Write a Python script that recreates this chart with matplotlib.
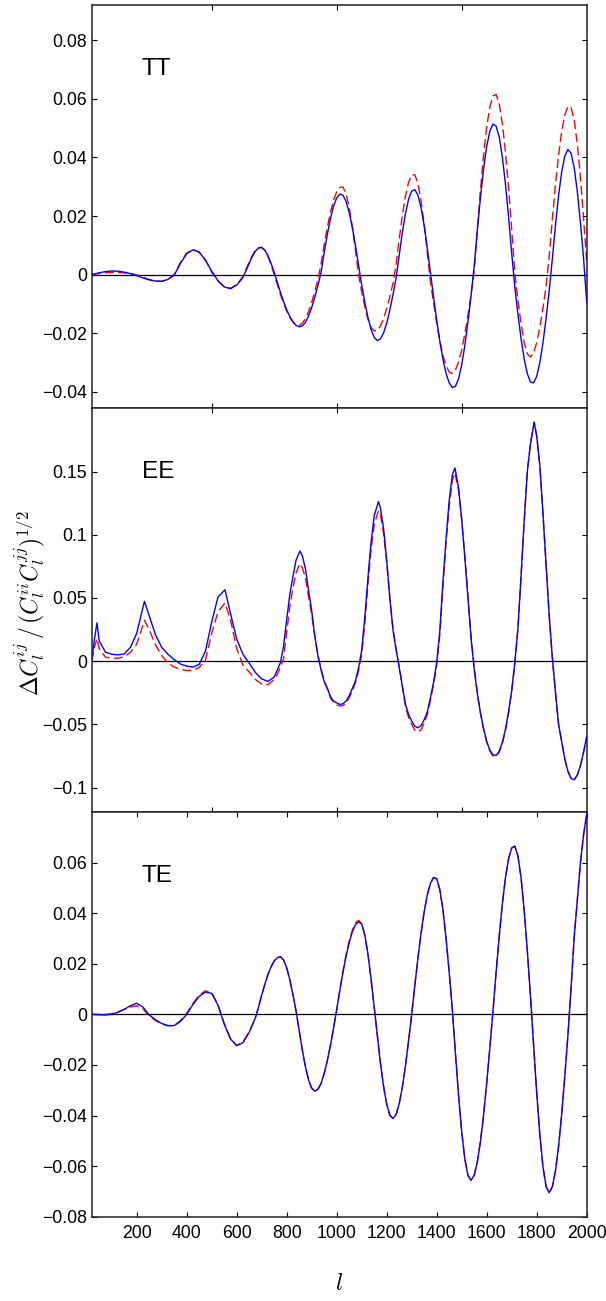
import numpy as np
import matplotlib
matplotlib.use("Agg")
import matplotlib.pyplot as plt

plt.rcParams["font.family"] = ["Liberation Sans", "DejaVu Sans"]
plt.rcParams["mathtext.fontset"] = "cm"

# multipole grid for TT and TE: coarse at low l, finer where the wiggles are large
ell = [20] + list(range(50, 626, 25)) + list(np.arange(650, 2000.01, 12.5))

# TT residuals (x 1e-3)
tt_solid = [0, 0.64, 1.05, 1.24, 1.18, 0.86, 0.35, -0.34, -1.13, -1.77, -2.18,
            -2.29, -1.63, -0.19, 3.83, 7.15, 8.49, 7.65, 5.0, 1.17, -2.05,
            -4.18, -4.78, -3.56, -0.97,
            3.83, 6.23, 8.05, 9.09, 9.24, 8.35, 6.48, 3.86,
            0.76, -2.65, -6.03, -9.18, -11.98, -14.3, -16.1, -17.3,
            -17.78, -17.5, -16.3, -14.1, -11.2, -7.66, -3.67, 0.8,
            7.5, 13.7, 19.1, 23.4, 26.2, 27.5, 27.1, 25.0,
            21.2, 16.1, 9.9, 3.1, -3.5, -9.4, -14.6, -18.7,
            -21.4, -22.5, -21.9, -19.9, -16.6, -12.1, -6.9, -1.2,
            6.6, 14.3, 20.8, 25.7, 28.5, 29.0, 27.1, 22.8,
            16.7, 9.0, 0.7, -7.6, -15.5, -22.7, -28.9, -33.7,
            -36.9, -38.5, -38.1, -35.5, -30.8, -24.2, -16.2, -7.1,
            3.0, 15.1, 26.3, 36.1, 43.8, 48.9, 51.4, 50.7,
            47.0, 40.2, 30.9, 19.7, 7.3, -4.2, -13.5, -21.9,
            -28.8, -33.8, -36.6, -36.9, -34.7, -30.0, -23.3, -14.9,
            -5.5, 5.3, 16.8, 27.0, 35.1, 40.5, 42.7, 41.4,
            36.5, 28.3, 17.7, 5.6, -9.5]
tt_dashed = [0, 0.40, 0.66, 0.79, 0.77, 0.61, 0.34, 0, -0.91, -1.66, -2.16,
             -2.29, -1.55, 0, 4.2, 7.33, 8.6, 7.7, 4.9, 0.86, -2.15, -4.07,
             -4.67, -3.37, -0.62,
             4.3, 6.56, 8.25, 9.21, 9.33, 8.34, 6.25, 3.34,
             0, -3.4, -6.75, -9.8, -12.4, -14.6, -16.1, -17.1,
             -17.3, -16.6, -15.0, -12.6, -9.4, -5.7, -1.7, 3.9,
             10.3, 16.2, 21.3, 25.4, 28.3, 29.8, 29.9, 27.6,
             23.0, 16.3, 8.3, 0, -5.9, -11.0, -15.2, -18.0,
             -19.2, -19.0, -17.5, -15.0, -11.6, -7.6, -3.0, 3.3,
             12.1, 20.2, 26.8, 31.5, 34.0, 34.1, 31.1, 25.2,
             17.0, 7.2, -2.4, -9.7, -16.5, -22.5, -27.5, -31.1,
             -33.2, -33.7, -32.5, -29.8, -25.7, -20.2, -13.9, -6.8,
             1.2, 15.4, 28.8, 40.7, 50.3, 57.2, 61.0, 61.5,
             58.3, 51.6, 41.9, 29.6, 15.5, 0.6, -8.7, -16.8,
             -23.2, -27.0, -28.1, -26.7, -23.2, -18.0, -11.5, -4.0,
             6.2, 18.9, 30.6, 40.8, 48.9, 54.5, 57.4, 57.1,
             52.8, 44.6, 33.1, 19.2, 4.4]

# TE residuals (x 1e-3)
te_solid = [0, -0.2, -0.25, 0, 0.8, 2.0, 3.4, 4.4, 2.9, -0.23, -2.1, -3.6,
            -4.45, -4.44, -2.8, 0, 3.9, 7.1, 8.8, 8.3, 3.7, -3.8, -9.7, -12.4,
            -11.2,
            -7.1, -4.3, -1.25, 2.9, 7.6, 11.9, 15.7, 18.8,
            21.1, 22.4, 22.8, 21.5, 18.4, 13.7, 7.8, 1.3,
            -6.5, -14.1, -20.8, -25.9, -29.2, -30.4, -29.6, -27.3,
            -23.4, -18.3, -12.2, -5.4, 1.8, 9.4, 16.6, 23.0,
            28.4, 32.6, 35.4, 36.6, 35.7, 31.4, 23.9, 14.0,
            2.8, -8.6, -19.3, -28.5, -35.5, -39.9, -41.2, -39.6,
            -35.4, -28.8, -20.4, -10.5, 0, 11.4, 22.3, 32.1,
            40.6, 47.3, 51.8, 54.1, 53.6, 49.3, 41.3, 30.0,
            16.6, 1.8, -15.6, -32.2, -46.4, -57.2, -63.7, -65.6,
            -63.6, -58.4, -50.3, -39.8, -27.2, -13.4, 1.2, 16.5,
            30.8, 43.6, 54.0, 61.5, 65.8, 66.5, 62.6, 53.9,
            41.1, 25.2, 7.3, -12.0, -31.0, -47.5, -60.2, -68.1,
            -70.5, -68.2, -62.0, -52.2, -39.4, -24.5, -8.1, 10.5,
            30.5, 45.0, 60.0, 71.0, 79.0]
te_dashed = [0, 0, 0, 0.3, 1.0, 1.9, 2.9, 3.4, 2.2, -0.6, -2.4, -3.8, -4.5,
             -4.4, -2.5, 0.4, 4.3, 7.6, 9.3, 8.5, 3.8, -3.6, -9.5, -12.3,
             -11.0,
             -6.8, -4.2, -1.2, 2.9, 7.6, 11.9, 15.7, 18.8,
             21.1, 22.4, 22.8, 21.5, 18.4, 13.7, 7.8, 1.3,
             -6.5, -14.1, -20.8, -25.9, -29.2, -30.4, -29.6, -27.3,
             -23.4, -18.3, -12.2, -5.4, 1.8, 9.6, 17.0, 23.5,
             29.0, 33.2, 36.2, 37.2, 35.9, 31.2, 23.6, 13.8,
             2.8, -8.6, -19.3, -28.5, -35.5, -39.9, -41.2, -39.6,
             -35.4, -28.8, -20.4, -10.5, 0, 11.4, 22.3, 32.1,
             40.6, 47.3, 51.8, 54.1, 53.6, 49.3, 41.3, 30.0,
             16.6, 1.8, -15.6, -32.2, -46.4, -57.2, -63.7, -65.6,
             -63.6, -58.4, -50.3, -39.8, -27.2, -13.4, 1.2, 16.5,
             30.8, 43.6, 54.0, 61.5, 65.8, 66.5, 62.6, 53.9,
             41.1, 25.2, 7.3, -12.0, -31.0, -47.5, -60.2, -68.1,
             -70.5, -68.2, -62.0, -52.2, -39.4, -24.5, -8.1, 10.5,
             30.5, 45.0, 60.0, 71.0, 79.0]

# EE has a sharp low-l spike and pointed peaks, so it gets its own grid
ell_ee = [20, 30, 41, 50, 75, 100, 125, 150, 175, 200,
          231, 250, 275, 300, 325, 350, 375, 400, 425, 450,
          475, 500, 525, 553, 575, 600, 625, 650, 675, 700, 725,
          750, 762.5, 775, 787.5, 800, 812.5, 825, 837.5,
          853, 862.5, 875, 887.5, 900, 912.5, 925, 937.5,
          950, 962.5, 975, 987.5, 1000, 1012.5, 1025, 1037.5,
          1050, 1062.5, 1075, 1087.5, 1100, 1112.5, 1125, 1137.5,
          1150, 1167, 1175, 1187.5, 1200, 1212.5, 1225, 1237.5,
          1250, 1262.5, 1275, 1287.5, 1300, 1312.5, 1325, 1337.5,
          1350, 1362.5, 1375, 1387.5, 1400, 1412.5, 1425, 1437.5,
          1450, 1462.5, 1473, 1487.5, 1500, 1512.5, 1525, 1537.5,
          1550, 1562.5, 1575, 1587.5, 1600, 1612.5, 1625, 1637.5,
          1650, 1662.5, 1675, 1687.5, 1700, 1712.5, 1725, 1737.5,
          1750, 1762.5, 1775, 1790, 1800, 1812.5, 1825, 1837.5,
          1850, 1862.5, 1875, 1887.5, 1900, 1912.5, 1925, 1937.5,
          1950, 1962.5, 1975, 1987.5, 2000]
ee_solid = [0, 0.016, 0.0303, 0.016, 0.0072, 0.0055, 0.005, 0.0058, 0.011,
            0.022, 0.0474, 0.036, 0.021, 0.011, 0.0055, 0.0013, -0.0022,
            -0.0039, -0.0046, -0.0025, 0.008, 0.031, 0.0506, 0.0565, 0.038,
            0.0175, 0.0055, -0.0015, -0.009, -0.014, -0.016,
            -0.0125, -0.0069, -0.001, 0.012, 0.033, 0.053, 0.067, 0.080,
            0.0871, 0.0835, 0.073, 0.056, 0.040, 0.020, 0.004, -0.0069,
            -0.016, -0.0212, -0.028, -0.0315, -0.033, -0.0341, -0.0337, -0.0314,
            -0.0274, -0.0216, -0.0155, -0.0053, 0.0087, 0.035, 0.066, 0.094,
            0.115, 0.1263, 0.121, 0.105, 0.080, 0.050, 0.025, 0.009,
            -0.0049, -0.0195, -0.034, -0.042, -0.0473, -0.0514, -0.0526, -0.0509,
            -0.0462, -0.040, -0.0289, -0.0165, -0.001, 0.024, 0.063, 0.097,
            0.127, 0.1475, 0.1529, 0.137, 0.112, 0.082, 0.050, 0.018,
            -0.0064, -0.0253, -0.0407, -0.0534, -0.0633, -0.0703, -0.0740, -0.0745,
            -0.0712, -0.0642, -0.0538, -0.040, -0.0232, -0.001, 0.026, 0.0675,
            0.111, 0.150, 0.172, 0.189, 0.178, 0.155, 0.117, 0.076,
            0.036, 0.003, -0.0246, -0.050, -0.0635, -0.0773, -0.0871, -0.0927,
            -0.0938, -0.090, -0.0825, -0.072, -0.0597]
ee_dashed = [0, 0.010, 0.018, 0.010, 0.0032, 0.0025, 0.0024, 0.0035, 0.007,
             0.0135, 0.0324, 0.025, 0.013, 0.0045, -0.0015, -0.0045, -0.0065,
             -0.0073, -0.0072, -0.005, 0.001, 0.022, 0.039, 0.0461, 0.033,
             0.010, -0.003, -0.0085, -0.0145, -0.018, -0.0185,
             -0.0145, -0.0105, -0.0045, 0.002, 0.023, 0.043, 0.058, 0.070,
             0.0772, 0.074, 0.066, 0.051, 0.037, 0.019, 0.005, -0.006,
             -0.016, -0.022, -0.029, -0.0325, -0.0345, -0.0354, -0.0352, -0.033,
             -0.029, -0.0235, -0.017, -0.0075, 0.005, 0.030, 0.061, 0.088,
             0.108, 0.119, 0.116, 0.101, 0.078, 0.050, 0.026, 0.010,
             -0.004, -0.020, -0.036, -0.0445, -0.050, -0.0545, -0.0558, -0.0542,
             -0.049, -0.042, -0.031, -0.018, -0.003, 0.021, 0.059, 0.094,
             0.123, 0.143, 0.149, 0.135, 0.112, 0.083, 0.052, 0.020,
             -0.005, -0.025, -0.041, -0.054, -0.064, -0.071, -0.0750, -0.0752,
             -0.072, -0.065, -0.055, -0.041, -0.024, -0.002, 0.026, 0.0675,
             0.111, 0.150, 0.172, 0.189, 0.178, 0.155, 0.117, 0.076,
             0.036, 0.003, -0.0246, -0.050, -0.0635, -0.0773, -0.0871, -0.0927,
             -0.0938, -0.090, -0.0825, -0.072, -0.0597]

panel_names = ["TT", "EE", "TE"]
tt_yticks = [-0.04, -0.02, 0, 0.02, 0.04, 0.06, 0.08]
tt_ylabels = ["\u22120.04", "\u22120.02", "0", "0.02", "0.04", "0.06", "0.08"]
ee_yticks = [-0.1, -0.05, 0, 0.05, 0.1, 0.15]
ee_ylabels = ["\u22120.1", "\u22120.05", "0", "0.05", "0.1", "0.15"]
te_yticks = [-0.08, -0.06, -0.04, -0.02, 0, 0.02, 0.04, 0.06]
te_ylabels = ["\u22120.08", "\u22120.06", "\u22120.04", "\u22120.02", "0",
              "0.02", "0.04", "0.06"]
x_ticks = [200, 400, 600, 800, 1000, 1200, 1400, 1600, 1800, 2000]
x_ticks_upper = [500, 1000, 1500]

W, H = 606, 1301
fig = plt.figure(figsize=(W / 100, H / 100), dpi=100)

left, right = 91.7, 586.7
rows = [(5.0, 408.3), (408.3, 811.7), (812.0, 1216.7)]


def make_axes(top, bottom):
    return fig.add_axes([left / W, 1 - bottom / H, (right - left) / W,
                         (bottom - top) / H])


panels = [
    (np.array(ell), np.array(tt_solid) * 1e-3, np.array(tt_dashed) * 1e-3,
     (-0.0456, 0.092), tt_yticks, tt_ylabels),
    (np.array(ell_ee), np.array(ee_solid), np.array(ee_dashed),
     (-0.119, 0.2), ee_yticks, ee_ylabels),
    (np.array(ell), np.array(te_solid) * 1e-3, np.array(te_dashed) * 1e-3,
     (-0.08, 0.08), te_yticks, te_ylabels),
]

for i, (x, ys, yd, ylim, yt, ytl) in enumerate(panels):
    ax = make_axes(*rows[i])
    ax.axhline(0, color="k", lw=0.9, zorder=1)
    ax.plot(x, yd, color="red", lw=1.0, dashes=(6.5, 3.0), zorder=2)
    ax.plot(x, ys, color="blue", lw=1.0, zorder=3)
    ax.set_xlim(20, 2000)
    ax.set_ylim(*ylim)
    ax.set_yticks(yt)
    ax.set_yticklabels(ytl)
    if i < 2:
        ax.set_xticks(x_ticks_upper)
        ax.set_xticklabels([])
    else:
        ax.set_xticks(x_ticks)
        ax.set_xticklabels([str(t) for t in x_ticks])
    ax.tick_params(direction="in", top=True, right=True, length=3.6,
                   width=0.8, labelsize=12.7, colors="black")
    ax.tick_params(axis="y", pad=3.5)
    ax.tick_params(axis="x", pad=6)
    for s in ax.spines.values():
        s.set_linewidth(1.1)
        s.set_color("#222222")
    ax.text(0.1016, 0.826, panel_names[i], transform=ax.transAxes,
            fontsize=17.6, ha="left", va="baseline")

fig.text(30 / W, 1 - 603 / H,
         r"$\Delta C_l^{ij}\,/\,(C_l^{ii}C_l^{jj})^{1/2}$",
         rotation=90, ha="center", va="center", fontsize=17)
fig.text(339 / W, 1 - 1283.5 / H, r"$l$", ha="center", va="center",
         fontsize=17)

fig.savefig("out.png", dpi=100)
